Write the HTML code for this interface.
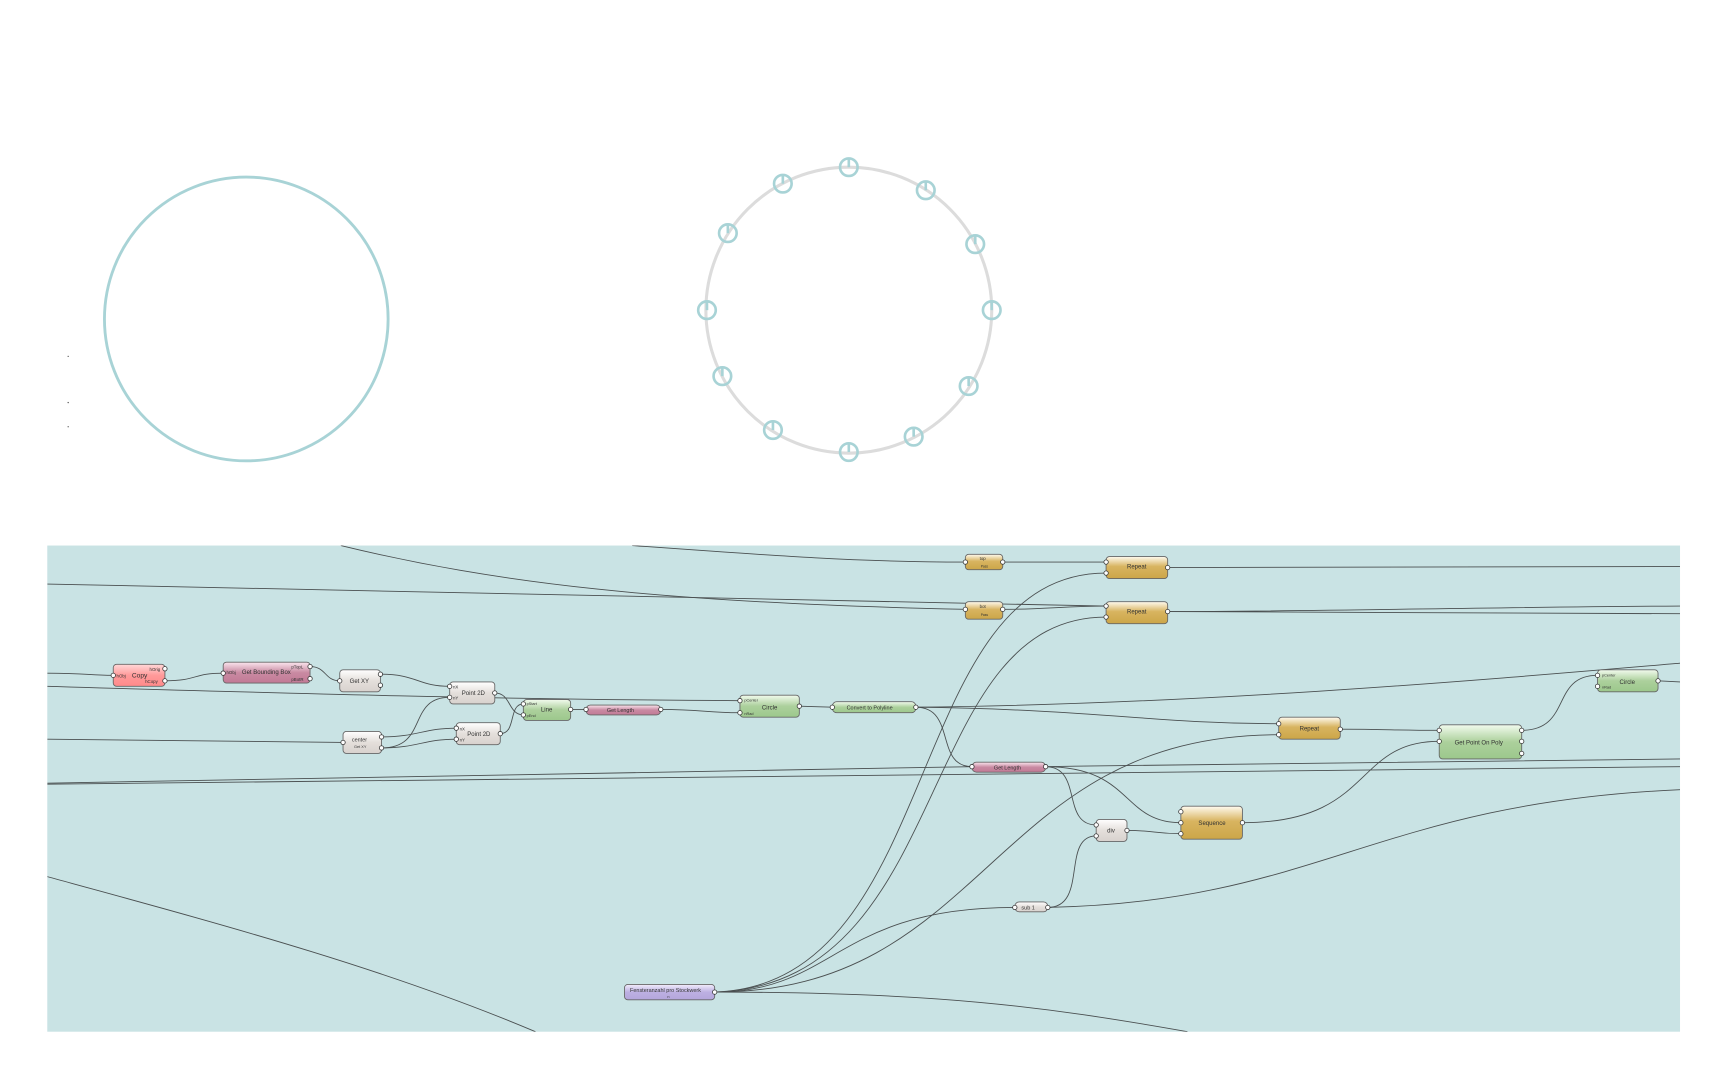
<!DOCTYPE html>
<html><head><meta charset="utf-8"><style>
html,body{margin:0;padding:0;background:#fff;}
svg{display:block;}
text{font-family:"Liberation Sans",sans-serif;fill:#333;}
.w{fill:none;stroke:#4a4f50;stroke-width:0.8;}
.p{fill:#fff;stroke:#333;stroke-width:0.7;}
.n{stroke:#666;stroke-width:0.8;}
</style></head><body>
<svg width="1724" height="1079" viewBox="0 0 1568 981" preserveAspectRatio="none" xmlns="http://www.w3.org/2000/svg">
<defs>
<linearGradient id="pink" x1="0" y1="0" x2="0" y2="1"><stop offset="0" stop-color="#ffd8d8"/><stop offset="0.5" stop-color="#ff9a9a"/><stop offset="1" stop-color="#ff8a8a"/></linearGradient>
<linearGradient id="mauve" x1="0" y1="0" x2="0" y2="1"><stop offset="0" stop-color="#fbe6ee"/><stop offset="0.5" stop-color="#c98aa2"/><stop offset="1" stop-color="#c27a96"/></linearGradient>
<linearGradient id="grey" x1="0" y1="0" x2="0" y2="1"><stop offset="0" stop-color="#ffffff"/><stop offset="0.5" stop-color="#e4dfdb"/><stop offset="1" stop-color="#d8d2ce"/></linearGradient>
<linearGradient id="green" x1="0" y1="0" x2="0" y2="1"><stop offset="0" stop-color="#f2fbee"/><stop offset="0.5" stop-color="#acd09c"/><stop offset="1" stop-color="#9cc88c"/></linearGradient>
<linearGradient id="gold" x1="0" y1="0" x2="0" y2="1"><stop offset="0" stop-color="#fffbf0"/><stop offset="0.45" stop-color="#d8b460"/><stop offset="1" stop-color="#cca648"/></linearGradient>
<linearGradient id="lav" x1="0" y1="0" x2="0" y2="1"><stop offset="0" stop-color="#f2eefc"/><stop offset="0.5" stop-color="#bdb0e2"/><stop offset="1" stop-color="#b4a6dc"/></linearGradient>
</defs>

<!-- top graphics -->
<circle cx="224" cy="290" r="129" fill="none" stroke="#a8d3d6" stroke-width="2.6"/>
<circle cx="62" cy="324" r="0.6" fill="#555"/>
<circle cx="62" cy="366" r="0.6" fill="#555"/>
<circle cx="62" cy="388" r="0.6" fill="#555"/>
<circle cx="772" cy="282" r="130" fill="none" stroke="#dcdcdc" stroke-width="2.8"/>
<g fill="none" stroke="#a8d3d6" stroke-width="2.4">
<circle cx="772" cy="152" r="8"/><line x1="772" y1="144" x2="772" y2="152"/>
<circle cx="842" cy="173" r="8"/><line x1="842" y1="165" x2="842" y2="173"/>
<circle cx="887" cy="222" r="8"/><line x1="887" y1="214" x2="887" y2="222"/>
<circle cx="902" cy="282" r="8"/><line x1="902" y1="274" x2="902" y2="282"/>
<circle cx="881" cy="351" r="8"/><line x1="881" y1="343" x2="881" y2="351"/>
<circle cx="831" cy="397" r="8"/><line x1="831" y1="389" x2="831" y2="397"/>
<circle cx="772" cy="411" r="8"/><line x1="772" y1="403" x2="772" y2="411"/>
<circle cx="703" cy="391" r="8"/><line x1="703" y1="383" x2="703" y2="391"/>
<circle cx="657" cy="342" r="8"/><line x1="657" y1="334" x2="657" y2="342"/>
<circle cx="643" cy="282" r="8"/><line x1="643" y1="274" x2="643" y2="282"/>
<circle cx="662" cy="212" r="8"/><line x1="662" y1="204" x2="662" y2="212"/>
<circle cx="712" cy="167" r="8"/><line x1="712" y1="159" x2="712" y2="167"/>
</g>

<!-- panel -->
<rect x="43" y="496" width="1485" height="442" fill="#c9e3e4"/>
<svg x="43" y="496" width="1485" height="442" viewBox="43 496 1485 442" overflow="hidden">
<g class="w">
<path d="M575 496 C700 505 780 511 878 511"/>
<path d="M310 496 C450 530 600 548 878 554"/>
<path d="M43 531 C400 538 700 545 1006 551"/>
<path d="M912 511 L1006 511"/>
<path d="M912 554 C950 554 970 551 1006 551"/>
<path d="M1062 516 L1528 515"/>
<path d="M1062 556 C1200 556 1350 552 1528 551"/>
<path d="M1062 556 C1200 556 1350 558 1528 558"/>
<path d="M43 612 C80 612 80 614 103 614"/>
<path d="M150 619 C180 619 175 612 203 612"/>
<path d="M282 606 C297 606 295 619 309 619"/>
<path d="M346 613 C380 613 380 624 409 624"/>
<path d="M43 672 C150 673 250 675 312 675"/>
<path d="M347 670 C380 670 385 662 415 662"/>
<path d="M347 680 C380 680 385 672 415 672"/>
<path d="M347 680 C390 680 370 634 409 634"/>
<path d="M43 624 C250 630 450 636 673 637"/>
<path d="M450 630 C465 630 462 650 476 650"/>
<path d="M455 667 C470 667 462 640 476 640"/>
<path d="M519 645 L533 645"/>
<path d="M601 645 C640 645 640 648 673 648"/>
<path d="M727 642 L757 643"/>
<path d="M833 643 C870 643 850 697 884 697"/>
<path d="M833 643 C1000 645 1050 658 1163 658"/>
<path d="M833 643 C1100 640 1350 618 1528 603"/>
<path d="M43 712 C400 706 700 699 884 697"/>
<path d="M43 713 C600 705 1100 698 1528 697"/>
<path d="M951 697 C1150 694 1350 691 1528 690"/>
<path d="M951 697 C985 697 965 750 997 750"/>
<path d="M951 697 C1030 697 1020 748 1074 748"/>
<path d="M1025 755 C1050 755 1050 758 1074 758"/>
<path d="M1219 663 C1260 663 1270 664 1309 664"/>
<path d="M1130 748 C1250 748 1230 674 1309 674"/>
<path d="M1384 664 C1430 664 1410 614 1453 614"/>
<path d="M1508 619 L1528 620"/>
<path d="M953 825 C990 825 965 760 997 760"/>
<path d="M953 825 C1200 820 1250 730 1528 718"/>
<path d="M650 902 C760 902 760 825 923 825"/>
<path d="M650 902 C900 902 900 668 1163 668"/>
<path d="M650 902 C860 895 820 521 1006 521"/>
<path d="M650 902 C870 895 830 561 1006 561"/>
<path d="M650 902 C850 902 950 915 1080 938"/>
<path d="M43 797 C200 840 350 880 487 938"/>
</g>

<!-- nodes -->
<g font-size="5">
<rect x="103" y="604" width="47" height="20" rx="3" fill="url(#pink)" class="n"/>
<text x="120" y="616" font-size="6">Copy</text><text x="106" y="616" font-size="4">hObj</text>
<text x="136" y="610" font-size="4">hOrig</text><text x="132" y="621" font-size="4">hCopy</text>
<circle cx="103" cy="614" r="2" class="p"/><circle cx="150" cy="608" r="2" class="p"/><circle cx="150" cy="619" r="2" class="p"/>

<rect x="203" y="602" width="79" height="19" rx="3" fill="url(#mauve)" class="n"/>
<text x="220" y="613" font-size="5.5">Get Bounding Box</text><text x="206" y="613" font-size="4">hObj</text>
<text x="265" y="608" font-size="4">pTopL</text><text x="265" y="619" font-size="4">pBotR</text>
<circle cx="203" cy="612" r="2" class="p"/><circle cx="282" cy="606" r="2" class="p"/><circle cx="282" cy="617" r="2" class="p"/>

<rect x="309" y="609" width="37" height="20" rx="3" fill="url(#grey)" class="n"/>
<text x="318" y="621" font-size="5.5">Get XY</text>
<circle cx="309" cy="619" r="2" class="p"/><circle cx="346" cy="613" r="2" class="p"/><circle cx="346" cy="623" r="2" class="p"/>

<rect x="409" y="620" width="41" height="20" rx="3" fill="url(#grey)" class="n"/>
<text x="420" y="632" font-size="5.5">Point 2D</text><text x="412" y="626" font-size="4">nX</text><text x="412" y="636" font-size="4">nY</text>
<circle cx="409" cy="624" r="2" class="p"/><circle cx="409" cy="634" r="2" class="p"/><circle cx="450" cy="630" r="2" class="p"/>

<rect x="312" y="665" width="35" height="20" rx="3" fill="url(#grey)" class="n"/>
<text x="320" y="674" font-size="5">center</text><text x="322" y="680" font-size="3.5">Get XY</text>
<circle cx="312" cy="675" r="2" class="p"/><circle cx="347" cy="670" r="2" class="p"/><circle cx="347" cy="680" r="2" class="p"/>

<rect x="415" y="657" width="40" height="20" rx="3" fill="url(#grey)" class="n"/>
<text x="425" y="669" font-size="5.5">Point 2D</text><text x="418" y="664" font-size="4">nX</text><text x="418" y="674" font-size="4">nY</text>
<circle cx="415" cy="662" r="2" class="p"/><circle cx="415" cy="672" r="2" class="p"/><circle cx="455" cy="667" r="2" class="p"/>

<rect x="476" y="636" width="43" height="19" rx="3" fill="url(#green)" class="n"/>
<text x="492" y="647" font-size="5.5">Line</text><text x="479" y="641" font-size="3.5">pStart</text><text x="479" y="652" font-size="3.5">pEnd</text>
<circle cx="476" cy="640" r="2" class="p"/><circle cx="476" cy="650" r="2" class="p"/><circle cx="519" cy="645" r="2" class="p"/>

<rect x="533" y="641" width="68" height="9" rx="4" fill="url(#mauve)" class="n"/>
<text x="552" y="647.5" font-size="5">Get Length</text>
<circle cx="533" cy="645" r="2" class="p"/><circle cx="601" cy="645" r="2" class="p"/>

<rect x="673" y="632" width="54" height="20" rx="3" fill="url(#green)" class="n"/>
<text x="693" y="645" font-size="5.5">Circle</text><text x="677" y="638" font-size="3.5">pCenter</text><text x="677" y="650" font-size="3.5">nRad</text>
<circle cx="673" cy="637" r="2" class="p"/><circle cx="673" cy="648" r="2" class="p"/><circle cx="727" cy="642" r="2" class="p"/>

<rect x="757" y="638" width="76" height="10" rx="4" fill="url(#green)" class="n"/>
<text x="770" y="645" font-size="5">Convert to Polyline</text>
<circle cx="757" cy="643" r="2" class="p"/><circle cx="833" cy="643" r="2" class="p"/>

<rect x="884" y="693" width="67" height="9" rx="4" fill="url(#mauve)" class="n"/>
<text x="904" y="699.5" font-size="5">Get Length</text>
<circle cx="884" cy="697" r="2" class="p"/><circle cx="951" cy="697" r="2" class="p"/>

<rect x="878" y="504" width="34" height="14" rx="3" fill="url(#gold)" class="n"/>
<text x="891" y="509" font-size="4">top</text><text x="892" y="516" font-size="3">Pass</text>
<circle cx="878" cy="511" r="2" class="p"/><circle cx="912" cy="511" r="2" class="p"/>

<rect x="878" y="547" width="34" height="16" rx="3" fill="url(#gold)" class="n"/>
<text x="891" y="553" font-size="4">bot</text><text x="892" y="560" font-size="3">Pass</text>
<circle cx="878" cy="554" r="2" class="p"/><circle cx="912" cy="554" r="2" class="p"/>

<rect x="1006" y="506" width="56" height="20" rx="3" fill="url(#gold)" class="n"/>
<text x="1025" y="517" font-size="5.5">Repeat</text>
<circle cx="1006" cy="511" r="2" class="p"/><circle cx="1006" cy="521" r="2" class="p"/><circle cx="1062" cy="516" r="2" class="p"/>

<rect x="1006" y="547" width="56" height="20" rx="3" fill="url(#gold)" class="n"/>
<text x="1025" y="558" font-size="5.5">Repeat</text>
<circle cx="1006" cy="551" r="2" class="p"/><circle cx="1006" cy="561" r="2" class="p"/><circle cx="1062" cy="556" r="2" class="p"/>

<rect x="1163" y="652" width="56" height="20" rx="3" fill="url(#gold)" class="n"/>
<text x="1182" y="664" font-size="5.5">Repeat</text>
<circle cx="1163" cy="658" r="2" class="p"/><circle cx="1163" cy="668" r="2" class="p"/><circle cx="1219" cy="663" r="2" class="p"/>

<rect x="997" y="745" width="28" height="20" rx="3" fill="url(#grey)" class="n"/>
<text x="1007" y="757" font-size="5.5">div</text>
<circle cx="997" cy="750" r="2" class="p"/><circle cx="997" cy="760" r="2" class="p"/><circle cx="1025" cy="755" r="2" class="p"/>

<rect x="1074" y="733" width="56" height="30" rx="3" fill="url(#gold)" class="n"/>
<text x="1090" y="750" font-size="5.5">Sequence</text>
<circle cx="1074" cy="738" r="2" class="p"/><circle cx="1074" cy="748" r="2" class="p"/><circle cx="1074" cy="758" r="2" class="p"/><circle cx="1130" cy="748" r="2" class="p"/>

<rect x="923" y="820" width="30" height="9" rx="4" fill="url(#grey)" class="n"/>
<text x="929" y="827" font-size="5">sub 1</text>
<circle cx="923" cy="825" r="2" class="p"/><circle cx="953" cy="825" r="2" class="p"/>

<rect x="1309" y="659" width="75" height="31" rx="3" fill="url(#green)" class="n"/>
<text x="1323" y="677" font-size="5.5">Get Point On Poly</text>
<circle cx="1309" cy="664" r="2" class="p"/><circle cx="1309" cy="674" r="2" class="p"/><circle cx="1384" cy="664" r="2" class="p"/><circle cx="1384" cy="674" r="2" class="p"/><circle cx="1384" cy="685" r="2" class="p"/>

<rect x="1453" y="609" width="55" height="20" rx="3" fill="url(#green)" class="n"/>
<text x="1473" y="622" font-size="5.5">Circle</text><text x="1457" y="615" font-size="3.5">pCenter</text><text x="1457" y="626" font-size="3.5">nRad</text>
<circle cx="1453" cy="614" r="2" class="p"/><circle cx="1453" cy="624" r="2" class="p"/><circle cx="1508" cy="619" r="2" class="p"/>

<rect x="568" y="895" width="82" height="14" rx="3" fill="url(#lav)" class="n"/>
<text x="573" y="902" font-size="5">Fensteranzahl pro Stockwerk</text><text x="607" y="907.5" font-size="3.5">n</text>
<circle cx="650" cy="902" r="2" class="p"/>
</g>
</svg>
</svg>
</body></html>
